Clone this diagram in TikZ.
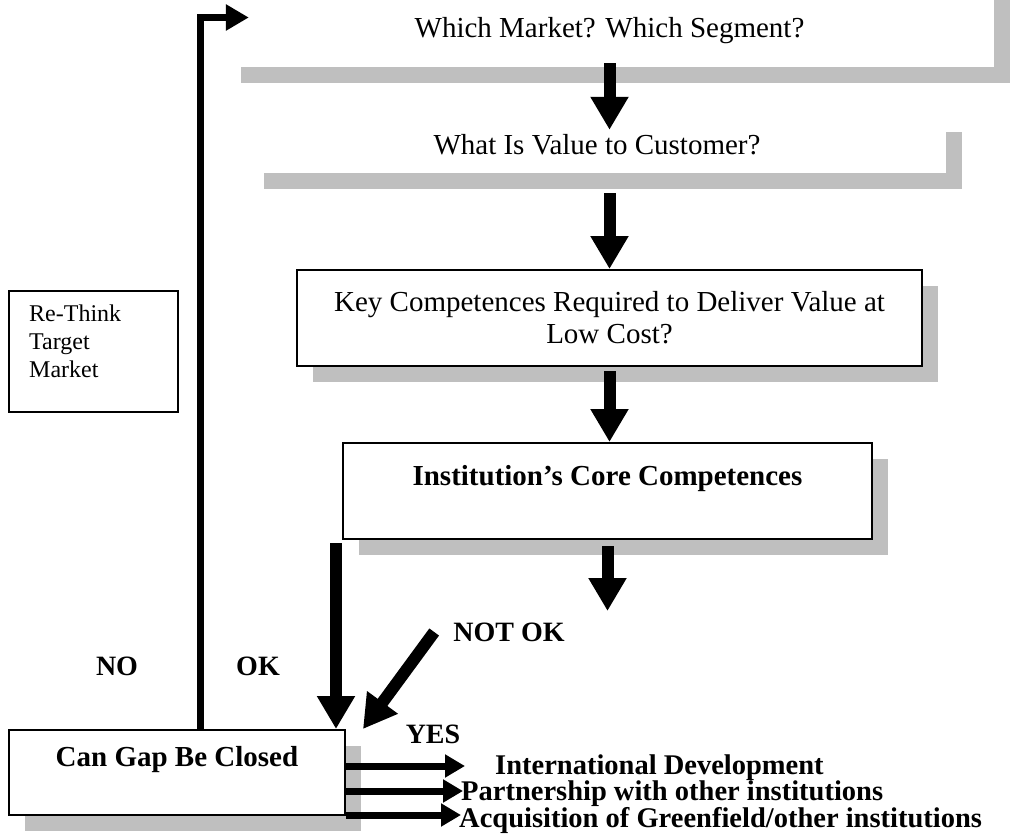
\documentclass[tikz,border=0pt]{standalone}
\usepackage{fontspec}
\setmainfont{Liberation Serif}
\usepackage{tikz}
\usetikzlibrary{arrows.meta, positioning, shadows}

\begin{document}
\begin{tikzpicture}[
      x=1pt, y=-1pt,
      every node/.style = {font=\fontsize{29}{32}\selectfont},
      blk/.style = {
        rectangle, fill=white, inner sep=0pt, align=center,
        drop shadow={shadow xshift=16pt, shadow yshift=-16pt,
                     fill=black!25, opacity=1}
      },
      cask/.style   = {blk},
      cbox/.style   = {blk, draw, line width=2pt},
      cbold/.style  = {cbox, font=\fontsize{29}{32}\selectfont\bfseries},
      thinkbox/.style = {rectangle, draw, line width=2pt,
                         minimum width=169pt, minimum height=121pt},
      thinktxt/.style = {inner sep=0pt, align=left,
                         font=\fontsize{24}{28}\selectfont},
      lbl/.style = {inner sep=0pt, font=\fontsize{28}{30}\selectfont\bfseries},
      way/.style = {inner sep=0pt, anchor=base west, text height=19pt, text depth=0pt,
                    font=\fontsize{28.5}{30}\selectfont\bfseries},
      bigarr/.style = {-{Triangle[length=33pt, width=36pt]}, line width=12pt},
      noarr/.style  = {-{Triangle[length=23pt, width=25pt]}, line width=7pt},
      yesarr/.style = {-{Triangle[length=20pt, width=22pt]}, line width=7pt},
    ]
    \clip (0,0) rectangle (1010,838);
    \useasboundingbox (0,0) rectangle (1010,838);

    \node[cask, minimum width=769pt, minimum height=89pt, text height=36pt] (market)
      at (609.5,22.5) {Which Market? Which Segment?};
    \node[cask, minimum width=698pt, minimum height=57pt] (value)
      at (597,144.5) {What Is Value to Customer?};
    \node[cbox, minimum width=625pt, minimum height=96pt] (keycomp)
      at (609.5,318) {Key Competences Required to Deliver Value at\\Low Cost?};
    \node[cbold, minimum width=529pt, minimum height=96pt] (core)
      at (607.5,491) {Institution’s Core Competences\\\mbox{}};
    \node[cbold, minimum width=336pt, minimum height=85pt] (gap)
      at (177,772.5) {Can Gap Be Closed\\\mbox{}};

    \node[thinkbox] (think) at (93.5,351.5) {};
    \node[thinktxt, below right=15pt and 21pt of think.north west]
      {Re-Think\\Target\\Market};

    \node[lbl] (notok) at (509,632) {NOT OK};
    \node[lbl] (no) at (117,666) {NO};
    \node[lbl] (ok) at (258,666) {OK};
    \node[lbl] (yes) at (433,734) {YES};
    \node[way] (intl) at (495,774) {International Development};
    \node[way] (partner) at (461,800.5) {Partnership with other institutions};
    \node[way] (acquire) at (459,827) {Acquisition of Greenfield/other institutions};

    \coordinate[below=71pt of core.south] (coreend);
    \coordinate (yes1) at (465,766);
    \coordinate (yes2) at (463,791);
    \coordinate (yes3) at (461,815);

    \draw[bigarr] ([yshift=4pt]market.south) -- ([yshift=-14pt]market.south |- value.north);
    \draw[bigarr] ([yshift=-20pt]value.south -| keycomp.north) -- (keycomp.north);
    \draw[bigarr] ([yshift=-4pt]keycomp.south) -- (keycomp.south |- core.north);
    \draw[bigarr] ([yshift=-6pt]core.south) -- (coreend);
    \draw[bigarr] ([xshift=-6pt,yshift=-3pt]core.south west) -- ([xshift=-6pt]core.south west |- gap.north);
    \draw[bigarr] ([xshift=-19pt]notok.west) -- ([xshift=17pt]gap.north east);
    \draw[noarr] ([xshift=192pt]gap.north west) |- ([xshift=24pt,yshift=5pt]market.west);
    \draw[yesarr] (gap.east |- yes1) -- (yes1);
    \draw[yesarr] (gap.east |- yes2) -- (yes2);
    \draw[yesarr] (gap.east |- yes3) -- (yes3);
    \end{tikzpicture}
\end{document}
